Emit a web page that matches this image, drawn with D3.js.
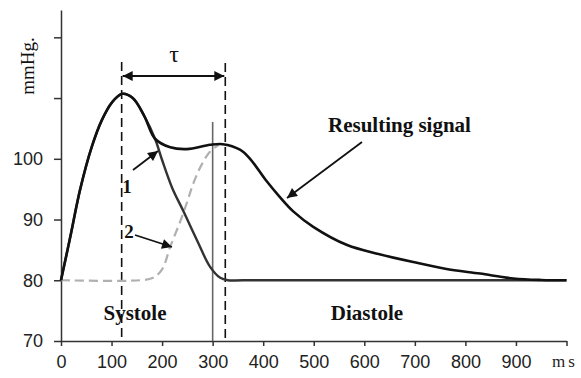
<!DOCTYPE html>
<html>
<head>
<meta charset="utf-8">
<script src="https://cdn.jsdelivr.net/npm/d3@7"></script>
<style>
  body { margin: 0; background: #fff; }
  svg { display: block; }
  .tick text { font-family: "Liberation Sans", Arial, sans-serif; font-size: 18px; fill: #222; }
  .lbl { font-family: "Liberation Serif", "Times New Roman", serif; fill: #111; }
</style>
</head>
<body>
<div id="canvas"></div>
<script>
// data (t in ms, pressure in mmHg)
const xTicks = [0, 100, 200, 300, 400, 500, 600, 700, 800, 900, 1000];
const yTicks = [70, 80, 90, 100, 110, 120];

const resulting = [
  [0, 80], [18, 87], [38, 95], [61, 102], [81, 106.4], [101, 109.3], [121, 110.7],
  [142, 110], [165, 107], [186, 103.3], [216, 101.9], [249, 101.6], [295, 102.3],
  [320, 102.4], [354, 101.5], [374, 100], [405, 96.5], [433, 93.7], [460, 91.3],
  [499, 88.8], [566, 85.8], [630, 84.3], [697, 83], [760, 81.9], [829, 81.1],
  [895, 80.3], [950, 80.05], [1000, 80]
];
// wave 1 (systolic)
const wave1 = [
  [0, 80], [18, 87], [38, 95], [61, 102], [81, 106.4], [101, 109.3], [121, 110.7],
  [142, 110], [165, 107], [186, 103.3], [200, 99.8], [220, 95.2], [242, 91.4],
  [269, 86.6], [295, 82.2], [315, 80.4], [330, 80], [360, 80], [1000, 80]
];
// wave 2 (dashed, grey)
const wave2 = [
  [0, 80], [156, 80], [182, 80.4], [200, 81.8], [216, 85.5], [235, 89.5], [250, 93],
  [262, 96], [278, 99], [295, 101.2], [312, 102.3]
];

const tPeak = 120, tEnd = 325, tSplit = 300;

function drawChart() {
  const width = 581, height = 378;
  const svg = d3.select("#canvas").append("svg")
    .attr("width", width).attr("height", height);

  const x = d3.scaleLinear().domain([0, 1000]).range([61, 566.5]);
  const y = d3.scaleLinear().domain([70, 124.5]).range([341, 10]);

  const defs = svg.append("defs");
  defs.append("marker")
    .attr("id", "arr")
    .attr("viewBox", "0 0 10 10")
    .attr("refX", 10).attr("refY", 5)
    .attr("markerUnits", "userSpaceOnUse")
    .attr("markerWidth", 12).attr("markerHeight", 10)
    .attr("orient", "auto-start-reverse")
    .append("path").attr("d", "M0,0 L10,5 L0,10 z").attr("fill", "#111");

  // axes
  const xAxis = svg.append("g")
    .attr("transform", `translate(0,${y(70)})`)
    .call(d3.axisBottom(x).tickValues(xTicks).tickSize(5).tickSizeOuter(0).tickPadding(9)
      .tickFormat(d => d === 1000 ? "ms" : d));
  xAxis.selectAll(".tick text").filter(d => d === 1000)
    .style("font-family", "Liberation Serif, serif").style("font-size", "17px")
    .attr("letter-spacing", 3).attr("dx", -2);

  svg.append("g")
    .attr("transform", `translate(${x(0)},0)`)
    .call(d3.axisLeft(y).tickValues(yTicks).tickSize(7).tickSizeOuter(0).tickPadding(11)
      .tickFormat(d => d <= 100 ? d : ""));

  svg.selectAll(".domain, .tick line").attr("stroke", "#333").attr("stroke-width", 1.5);

  const line = d3.line().x(d => x(d[0])).y(d => y(d[1])).curve(d3.curveCatmullRom.alpha(0.5));

  // vertical markers
  svg.append("line")
    .attr("x1", x(tSplit)).attr("x2", x(tSplit))
    .attr("y1", 122).attr("y2", y(70))
    .attr("stroke", "#666").attr("stroke-width", 1.6);
  [[tPeak, 62], [tEnd, 63]].forEach(([t, top]) => {
    svg.append("line")
      .attr("x1", x(t)).attr("x2", x(t))
      .attr("y1", top).attr("y2", y(70))
      .attr("stroke", "#111").attr("stroke-width", 1.6)
      .attr("stroke-dasharray", "9,5");
  });

  svg.append("path").datum(wave2)
    .attr("d", line).attr("fill", "none")
    .attr("stroke", "#b0b0b0").attr("stroke-width", 2.2).attr("stroke-dasharray", "9,5");
  svg.append("path").datum(wave1)
    .attr("d", line).attr("fill", "none")
    .attr("stroke", "#333").attr("stroke-width", 2.4);
  svg.append("path").datum(resulting)
    .attr("d", line).attr("fill", "none")
    .attr("stroke", "#111").attr("stroke-width", 2.6);

  // tau arrow
  svg.append("line")
    .attr("x1", x(tPeak) + 1).attr("x2", x(tEnd) - 1)
    .attr("y1", 76).attr("y2", 76)
    .attr("stroke", "#111").attr("stroke-width", 2)
    .attr("marker-start", "url(#arr)").attr("marker-end", "url(#arr)");
  svg.append("text").attr("class", "lbl")
    .attr("x", 174).attr("y", 62).attr("text-anchor", "middle")
    .style("font-size", "24px").text("τ");

  // pointer arrows
  const arrows = [[362, 142, 287, 198], [133, 170, 158, 151], [135, 235, 172, 247]];
  arrows.forEach(a => {
    svg.append("line")
      .attr("x1", a[0]).attr("y1", a[1]).attr("x2", a[2]).attr("y2", a[3])
      .attr("stroke", "#111").attr("stroke-width", 1.8)
      .attr("marker-end", "url(#arr)");
  });

  const labels = [
    ["Resulting signal", 328, 132, 21, "start"],
    ["1", 127, 193, 19, "middle"],
    ["2", 129, 238, 19, "middle"],
    ["Systole", 135, 320, 21, "middle"],
    ["Diastole", 367, 320, 21, "middle"]
  ];
  labels.forEach(l => {
    svg.append("text").attr("class", "lbl")
      .attr("x", l[1]).attr("y", l[2]).attr("text-anchor", l[4])
      .style("font-size", l[3] + "px").style("font-weight", "bold").text(l[0]);
  });

  svg.append("text").attr("class", "lbl")
    .attr("transform", "translate(34,66) rotate(-90)")
    .attr("text-anchor", "middle").style("font-size", "19px").text("mmHg.");
}

drawChart();
</script>
</body>
</html>
